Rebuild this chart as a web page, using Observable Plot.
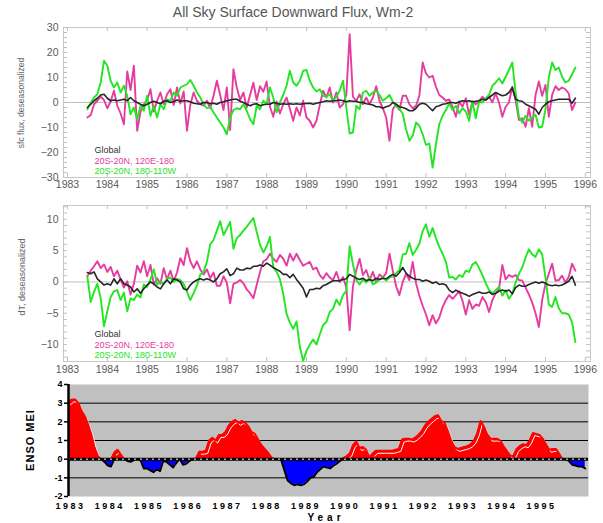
<!DOCTYPE html>
<html>
<head>
<meta charset="utf-8">
<script src="https://cdn.jsdelivr.net/npm/d3@7"></script>
<script src="https://cdn.jsdelivr.net/npm/@observablehq/plot@0.6"></script>
<style>
  html, body { margin: 0; padding: 0; background: #fff; }
  #wrap { position: relative; width: 603px; height: 523px; overflow: hidden; font-family: "Liberation Sans", Arial, Helvetica, sans-serif; }
  #wrap svg { position: absolute; left: 0; background: transparent; }
  .title { position: absolute; left: 0; width: 586px; top: 4px; text-align: center; font-size: 14px; line-height: 16px; color: #555; }
  .rot { position: absolute; transform: translate(-50%, -50%) rotate(-90deg); white-space: nowrap; }
  .ylab1 { left: 21px; top: 103px; font-size: 8.5px; color: #666; }
  .ylab2 { left: 22px; top: 277px; font-size: 9px; color: #666; }
  .ensolab { left: 30px; top: 440px; font-size: 11px; font-weight: bold; letter-spacing: 1px; color: #000; }
  .yearlab { position: absolute; left: 326px; top: 517px; transform: translate(-50%, -50%); font-size: 10px; line-height: 11px; font-weight: bold; letter-spacing: 4px; color: #000; }
  .enso g[aria-label="x-axis tick label"] text { letter-spacing: 2.5px; }
</style>
</head>
<body>
<div id="wrap">
  <div class="title">All Sky Surface Downward Flux, Wm-2</div>
  <div class="rot ylab1">sfc flux, deseasonalized</div>
  <div class="rot ylab2">dT, deseasonalized</div>
  <div class="rot ensolab">ENSO MEI</div>
  <div class="yearlab">Year</div>
</div>
<script>
// ---------- DATA ----------
const firstMonth = 1983.5;          // first monthly sample of the flux / dT series
const ensoStart = 1983.0;           // first monthly sample of the MEI series
const yearTicks = [1983,1984,1985,1986,1987,1988,1989,1990,1991,1992,1993,1994,1995,1996];
const ensoYearTicks = [1983,1984,1985,1986,1987,1988,1989,1990,1991,1992,1993,1994,1995];
const fluxTicks = [-30,-20,-10,0,10,20,30];
const dTTicks = [-10,-5,0,5,10];
const ensoTicks = [-2,-1,0,1,2,3,4];
const ensoGrid = [-1,1,2,3];
const legendLabels = ["Global", "20S-20N, 120E-180", "20S-20N, 180-110W"];

const fluxGlobal = [-2,-0.7,0.7,1.7,3,3.3,1.7,0.7,1,0.7,
  1,1.3,0.7,2,0.7,0,-0.7,-1.3,-0.7,0,
  0.5,0,-0.5,0.5,0.7,0,0.3,1,0.5,0.7,
  0.7,0.3,-0.3,-0.5,-0.7,0,0,-0.5,-0.3,-0.7,
  0,0.3,0.7,1,1.3,1.3,0.5,0,-0.7,-1.3,
  -0.7,-0.5,-1.3,-0.9,-0.7,-0.7,0,-0.3,-0.7,-0.5,
  -0.7,-0.5,-0.7,-0.5,-0.7,-0.5,-0.4,-0.3,-0.7,-0.3,
  0,0.3,0.7,0.5,0.7,0.7,1,0.7,0.3,0.7,
  0.5,0.5,0,0,-0.5,-0.7,-1,-1.7,-1.7,-2.3,
  -1.7,-1.3,0,-0.7,-1.7,-2,-2.5,-3.3,-3.3,-2.3,
  -0.7,-0.3,-0.7,-2,-3.3,-1.7,-1.3,-0.7,-0.5,0,
  0,-0.3,0.3,0.7,0.5,0.7,0.3,0.5,0.7,1.3,
  1,2,3,4,3.3,2.7,3,4,6,1.3,
  0.7,0.5,-0.7,-1.3,-2,-2.7,-4.7,-2,-0.7,0.3,
  0.7,1,1.3,1.3,1.3,1.3,-0.3,1.7];
const fluxWestPac = [-6,-5,-0.7,0.7,2.3,1,-2.3,0.4,4.7,-1.3,
  -4.4,-8.7,12.4,5,14.7,-11.3,-3.6,-0.7,1,5.3,
  -3.6,0.7,4,-0.7,3.3,5.3,-1,6,-0.4,4.4,
  -11.3,-1,4,0.7,-0.7,-1.3,0.7,-2.3,2.7,8.7,
  3,-3,6,-11,13.3,6,1,4,-2,3,
  7.9,1,6.5,4.3,8.4,-1.7,-5.7,0.4,-4.4,-0.7,
  2,-2.5,-7.3,-2,-5.2,0.7,-6,-7.3,-10,-7.3,
  -1,4.7,2,6,0,4,-2,-0.7,3,27.3,
  2.3,0.7,3.3,-0.7,2,-0.7,2,6.5,0.7,-2.3,
  -6,-15.3,-2.7,-0.7,-3,2.7,2.7,-0.7,-2.3,-1.3,
  2.7,16,11.6,10,10.7,6.3,3,2,0.7,1.2,
  -1.7,-5.7,0.4,-1.7,1.7,-4.9,0.4,-0.7,0.7,2.3,
  1,2.3,0.1,3.6,0,-5.7,-1.7,0,6.3,1,
  -7,-6.3,-9.7,-2.3,-9.7,3,8.4,2.7,7,-5.7,
  3,6.5,5,6,5.3,3.6,-3,0];
const fluxCentralPac = [-2.7,0,2,3.3,8,16.7,14.7,8.7,6,8,
  4,6.7,2.7,-4.7,-2,-6.7,-1.3,-3.3,2.7,-5.3,
  -1.3,-6,-0.7,-2.7,1.3,0.7,4,2.7,6,6.7,
  7.3,9,6.7,4,2,-0.7,-2.3,-1.7,-4,-6,
  -8,-10,-12.7,-6,-3,-2.3,-2.7,-0.7,-3.3,-6.7,
  -8.7,-1.3,-2.7,0.7,-0.7,6,2,-4,0,3,
  6.7,12.7,8,6.7,8.7,12.7,13,8.7,6,4.4,
  5.3,2.7,2.3,3.3,0.7,2.3,4.7,8.7,-2,-12.4,
  -12,-1.3,-2.7,4,4.7,2.7,4,4.7,3,0.7,
  1.7,3,0.3,-1.5,-2.5,-4.5,-10.7,-15.3,-13.3,-8,
  -9.3,-12.7,-17,-16.4,-26,-16.7,-8.7,-5.3,-3,-0.4,
  -3,-1.3,-4.4,-2.3,-3.6,-7.3,0.4,-6.3,0.4,0,
  1.7,3,6.7,8,9.7,7.6,10.3,13,16,4,
  -5.7,-8,-5.3,-7.3,-6,-4.9,-10,-9.7,-2.7,10,
  16,13,14,10.3,8,8.7,11.3,14];

const dTGlobal = [1.5,1.3,1.6,0.5,0,-0.5,-0.3,-0.5,0.5,-0.3,
  0.5,-0.3,-0.5,-0.8,-1.6,-1.1,-1.8,-1.1,-0.5,0,
  -0.3,-0.8,-1.1,-0.3,0.3,-0.3,0.5,0.3,0,-1.1,
  -1.3,-0.5,0,0.3,0.5,0.3,0.5,0.3,0,0.5,
  1.3,1.6,2.1,1,1.3,2.2,1.9,1.9,2.2,2.1,
  2.5,2.5,2.7,2.5,3,2.7,2.3,2,1.7,1.2,
  1.2,0.7,1.2,0.4,-0.3,-1,-2.4,-1.2,-1.2,-1,
  -1.1,-0.6,-0.4,-0.1,0.2,0.2,0.2,0.4,0.5,1.2,
  0.9,0.6,0.4,0.6,0.2,0.4,0.2,0.6,0.4,0.6,
  0.5,0.9,1.2,0.9,1.5,2.3,1.4,0.9,0.6,0.4,
  0.4,0.1,0.3,0.1,-0.2,0,-0.4,-0.3,-0.5,-1.3,
  -1.7,-1.3,-1.6,-1.8,-2,-2.3,-2,-1.8,-1.6,-1.8,
  -1.8,-1.6,-2,-1.8,-1.5,-1.3,-1.5,-1.3,-1.9,-0.9,
  -0.5,-0.7,-0.7,-0.4,-0.2,0,-0.2,0,-0.2,-0.5,
  -0.6,-0.5,-0.6,-0.5,-0.2,0.1,0.9,-0.5];
const dTWestPac = [0.9,1.8,2.5,3.3,2.2,2.8,1.6,2.4,0.9,1.8,
  0.4,-0.9,0.1,-2,-0.3,2.6,1.5,3.3,0.9,2.7,
  -0.4,0.6,-0.3,2.2,0.4,1.8,0.1,1.5,3.8,2.7,
  5.4,3.3,2.2,3.3,2,1.2,2,0.6,1.5,-0.6,
  -0.6,0.9,-0.1,-3.4,-0.3,-0.1,0.3,-0.2,-1.2,-1.8,
  -2.6,-0.5,1.6,3.3,3.6,4.5,3.7,3.2,4.3,3.7,
  2.6,4.5,3.4,4.5,3.5,2.6,2.9,3.2,2,2.3,
  1.1,0.5,1.4,0.7,0.3,1.6,0,0.8,-0.9,-7.7,
  -0.7,1.9,3.7,1.1,1.9,0.3,1.6,0,1.2,0.7,
  1.4,4.5,1.8,-0.7,-2.1,0,1.3,0.3,3.2,-0.2,
  -2.2,-3.8,-5.2,-6.9,-5.3,-6.6,-5.7,-4,-2.9,-2.1,
  -2.7,-2.1,-1.5,-3,-5.2,-2.9,-4.3,-3.6,-3.8,-2.4,
  -3.2,-4.8,-2.9,-1.8,-1.1,2.7,0.4,1.1,0.8,1.1,
  0.3,0.2,-0.9,-2,-3.3,-5,-7.2,-2.9,-0.3,1.3,
  2.9,0.2,0.3,1,-0.1,0.8,2.9,1.8];
const dTCentralPac = [0.8,-3.2,-1.6,-0.3,-2.6,-7.1,-4.7,-2.4,-1.5,-1.3,
  -2.9,-1.7,-4.7,-2.6,-2.9,-2,-2.5,-0.4,-0.8,0.4,
  2,-0.4,0,-0.3,0.5,0.7,0,0.5,0.3,-0.3,
  -1.6,-2.9,-1.8,-0.6,1.2,1.6,3.2,6,6.7,8.2,
  9.7,7.5,8.5,9.6,5.3,7,7.5,8.2,8.8,9.5,
  10.2,8,5.9,4.7,5.7,7.2,2.3,1.6,0.4,-1.9,
  -5.1,-6.5,-7.5,-6.3,-10.4,-12.6,-11,-10,-9.2,-10,
  -8.4,-6.9,-6.4,-4.8,-4.3,-2.8,-3.7,-2.1,-1.4,5.7,
  2.8,0.3,-0.4,0.4,-0.1,0.7,-0.4,-0.1,0.4,0.7,
  0.2,0.7,0.9,1.4,1.9,4.4,4.5,6.2,4.3,5.1,
  6.1,8.1,9.2,7.2,8.6,7,5.6,4.5,3.2,0.7,
  0.8,0.4,1.1,0.8,1.8,1.6,2.8,3.2,2.2,1.1,
  -0.2,-1.3,-1.8,-1.3,-0.8,-2.2,-1.3,-2.7,-1.9,-0.1,
  1.3,2.3,3.9,5.2,4.4,4,5.2,4.4,0.7,-3.6,
  -4,-2.4,-4.2,-5,-5,-5.2,-6.4,-9.6];

const ensoMEI = [3.05,3.2,3.2,3.0,2.6,2.3,1.85,1.3,0.6,0.15,
  0,-0.15,-0.35,-0.4,0.35,0.5,0.25,0,-0.1,-0.15,
  -0.05,0,-0.05,-0.5,-0.5,-0.6,-0.7,-0.55,-0.65,-0.1,
  -0.15,-0.3,-0.45,-0.2,0,-0.3,-0.25,-0.1,0,0.05,
  0.4,0.4,0.45,1.0,1.15,1.0,1.3,1.3,1.45,1.8,
  2.0,2.1,1.95,2.05,1.95,1.75,1.45,1.35,1.05,0.75,
  0.55,0.35,0.1,0,0,-0.05,-0.6,-1.15,-1.3,-1.4,
  -1.35,-1.4,-1.35,-1.2,-1.0,-0.95,-0.7,-0.55,-0.4,-0.45,
  -0.5,-0.35,-0.25,-0.1,0.05,0.15,0.3,0.75,0.95,0.6,
  0.65,0.5,0.1,0.3,0.45,0.45,0.45,0.45,0.45,0.45,
  0.5,0.55,1.05,1.1,1.1,1.05,1.15,1.3,1.5,1.8,
  2.0,2.15,2.3,2.35,2.05,1.95,1.5,1.0,0.65,0.55,
  0.6,0.65,0.7,0.8,1.0,1.4,2.05,1.75,1.35,1.1,
  1.1,1.1,1.0,0.7,0.45,0.2,0.15,0.55,0.7,0.8,
  0.75,1.0,1.4,1.35,1.3,1.1,0.8,0.5,0.55,0.55,
  0.3,0,0,-0.1,-0.3,-0.35,-0.4,-0.4,-0.5];

// ---------- STYLE ----------
const MAGENTA = "#e63c9f";
const GREEN = "#22e622";
const BLACK = "#262626";
const xDomain = [1982.9, 1996.13];
const ensoXDomain = [1983.0, 1996.25];
const W = 603, ML = 63, MR = 13;

const rows = (vals, start) => vals.map((v, i) => ({t: start + i / 12, v}));

function panel({top, height, marginTop, marginBottom, yDomain, yTicks, yMinor, global, westPac, centralPac, tickPadding}) {
  const ph = height - marginTop - marginBottom;
  const pw = W - ML - MR;
  const legend = (label, color, dy) => Plot.text([label], {
    text: d => d, frameAnchor: "bottom-left", dx: 31, dy, textAnchor: "start",
    lineAnchor: "middle", fill: color, fontSize: 9
  });
  const svg = Plot.plot({
    width: W, height, marginTop, marginBottom, marginLeft: ML, marginRight: MR,
    x: {domain: xDomain},
    y: {domain: yDomain},
    style: {fontFamily: '"Liberation Sans", Arial, sans-serif', fontSize: "10.5px", color: "#5a5a5a", background: "transparent"},
    marks: [
      Plot.frame({stroke: "#c8c8c8"}),
      Plot.ruleY([0], {stroke: "#c0c0c0"}),
      Plot.tickY(yMinor, {y: d => d, insetRight: pw - 4, stroke: "#c0c0c0"}),
      Plot.tickY(yMinor, {y: d => d, insetLeft: pw - 4, stroke: "#c0c0c0"}),
      Plot.tickX(yearTicks, {x: d => d, insetTop: ph - 4, stroke: "#c0c0c0"}),
      Plot.tickX(yearTicks, {x: d => d, insetBottom: ph - 4, stroke: "#c0c0c0"}),
      Plot.lineY(rows(westPac, firstMonth), {x: "t", y: "v", stroke: MAGENTA, strokeWidth: 1.9}),
      Plot.lineY(rows(centralPac, firstMonth), {x: "t", y: "v", stroke: GREEN, strokeWidth: 1.9}),
      Plot.lineY(rows(global, firstMonth), {x: "t", y: "v", stroke: BLACK, strokeWidth: 1.6}),
      Plot.axisX({ticks: yearTicks, tickSize: 0, tickPadding, tickFormat: d => String(d), label: null}),
      Plot.axisY({ticks: yTicks, tickSize: 0, tickPadding: 5, label: null}),
      legend(legendLabels[0], "#333", -27),
      legend(legendLabels[1], MAGENTA, -16.5),
      legend(legendLabels[2], GREEN, -6)
    ]
  });
  svg.style.top = top + "px";
  return svg;
}

const wrap = document.getElementById("wrap");

wrap.appendChild(panel({
  top: 0, height: 195, marginTop: 27, marginBottom: 18,
  yDomain: [-30, 30], yTicks: fluxTicks, yMinor: d3.range(-30, 31, 2),
  global: fluxGlobal, westPac: fluxWestPac, centralPac: fluxCentralPac, tickPadding: 3
}));

wrap.appendChild(panel({
  top: 195, height: 186, marginTop: 10, marginBottom: 20,
  yDomain: [-12.7, 12.2], yTicks: dTTicks, yMinor: d3.range(-12, 13, 1),
  global: dTGlobal, westPac: dTWestPac, centralPac: dTCentralPac, tickPadding: 4
}));

// ENSO panel
const enso = rows(ensoMEI, ensoStart);
const ensoSvg = Plot.plot({
  className: "enso",
  width: W, height: 143, marginTop: 4, marginBottom: 27, marginLeft: 68, marginRight: 15,
  x: {domain: ensoXDomain},
  y: {domain: [-2, 4]},
  style: {fontFamily: '"Liberation Sans", Arial, sans-serif', fontSize: "9px", fontWeight: "bold", color: "#000", background: "transparent"},
  marks: [
    Plot.frame({fill: "#c0c0c0", stroke: "none"}),
    Plot.ruleY(ensoGrid, {stroke: "#000", strokeWidth: 1}),
    Plot.areaY(enso, {x: "t", y: d => Math.max(0, d.v), fill: "#ff0000"}),
    Plot.areaY(enso, {x: "t", y: d => Math.min(0, d.v), fill: "#0000ff"}),
    Plot.lineY(enso, {x: "t", y: d => (d.v > 0.12 ? d.v : NaN), stroke: "#fff", strokeWidth: 1, dx: 2, dy: 2.5}),
    Plot.lineY(enso, {x: "t", y: d => Math.max(0, d.v), stroke: "#ff0000", strokeWidth: 2}),
    Plot.lineY(enso, {x: "t", y: d => Math.min(0, d.v), stroke: "#000", strokeWidth: 1.8}),
    Plot.ruleY([0], {stroke: "#000", strokeWidth: 3}),
    Plot.ruleY([0], {stroke: "#fff", strokeWidth: 1, strokeDasharray: "2,4"}),
    Plot.ruleX([ensoXDomain[0]], {stroke: "#000", strokeWidth: 2.5}),
    Plot.axisY({ticks: ensoTicks, tickSize: 4, tickPadding: 2, tickFormat: d => String(d), label: null, strokeWidth: 1.5}),
    Plot.axisX({ticks: ensoYearTicks, tickSize: 0, tickPadding: 6, dx: 2, tickFormat: d => String(d), label: null})
  ]
});
ensoSvg.style.top = "380px";
wrap.appendChild(ensoSvg);
</script>
</body>
</html>
